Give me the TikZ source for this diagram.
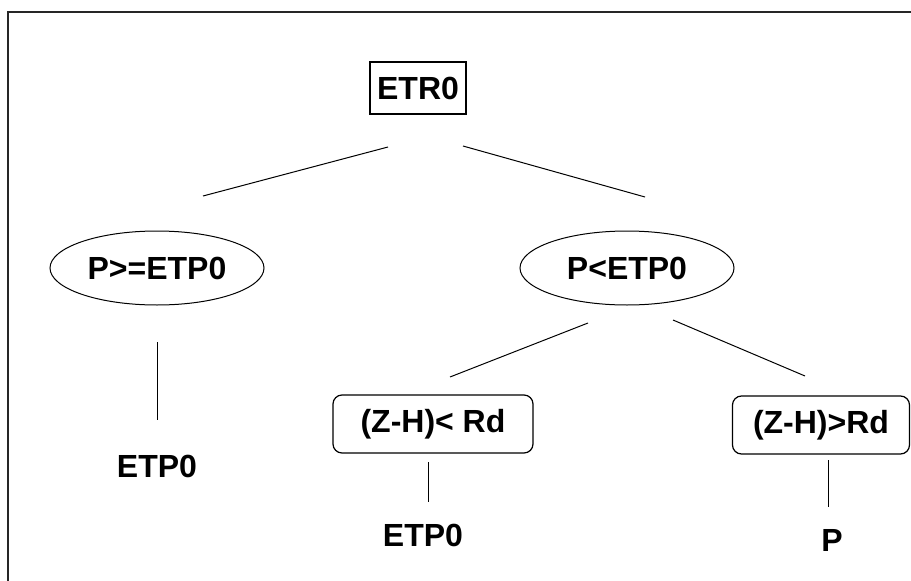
\documentclass[tikz,border=0pt]{standalone}
\usepackage{fontspec}
\setmainfont{Liberation Sans}
\usetikzlibrary{shapes.geometric}
\begin{document}
\begin{tikzpicture}[
    x=1pt, y=-1pt,
    every node/.style={font=\fontsize{32}{36}\selectfont\bfseries, inner sep=0pt, align=center},
    rootbox/.style={rectangle, draw, line width=1.2pt, minimum width=96pt, minimum height=52pt},
    testnode/.style={ellipse, draw, line width=1pt, minimum width=214pt, minimum height=74pt},
    condbox/.style={rectangle, rounded corners=9pt, draw, line width=1.2pt, minimum height=58pt},
    link/.style={line width=1pt}
]
\useasboundingbox (0,0) rectangle (911,581);

% Frame
\draw [line width=2pt, black!85] (911,12) -- (8,12) -- (8,581);

% Nodes
\node (etr) [rootbox] at (418,88) {ETR0};

\node (geq) [testnode] at (157,268) {P>=ETP0};
\node (less) [testnode] at (627,268) {P<ETP0};

\node (etpA) at (157,466) {ETP0};

\node (zhlt) [condbox, minimum width=200pt] at (433,424) {(Z-H)< Rd};
\node (zhgt) [condbox, minimum width=177pt] at (821,425) {(Z-H)>Rd};

\node (etpB) at (423,535) {ETP0};
\node (pval) at (832,540) {P};

% Line ends
\coordinate (etrL) at (388,147);
\coordinate (geqT) at (203,196);
\coordinate (etrR) at (463,146);
\coordinate (lessT) at (645,197);
\coordinate (geqB) at (157,342);
\coordinate (etpAT) at (157,420);
\coordinate (lessL) at (588,323);
\coordinate (zhltT) at (450,377);
\coordinate (lessR) at (673,320);
\coordinate (zhgtT) at (805,376);
\coordinate (zhltB) at (428,462);
\coordinate (etpBT) at (428,502);
\coordinate (zhgtB) at (828,460);
\coordinate (pvalT) at (828,507);

% Branches
\draw [link] (etrL) -- (geqT);
\draw [link] (etrR) -- (lessT);
\draw [link] (geqB) -- (etpAT);
\draw [link] (lessL) -- (zhltT);
\draw [link] (lessR) -- (zhgtT);
\draw [link] (zhltB) -- (etpBT);
\draw [link] (zhgtB) -- (pvalT);

\end{tikzpicture}
\end{document}
